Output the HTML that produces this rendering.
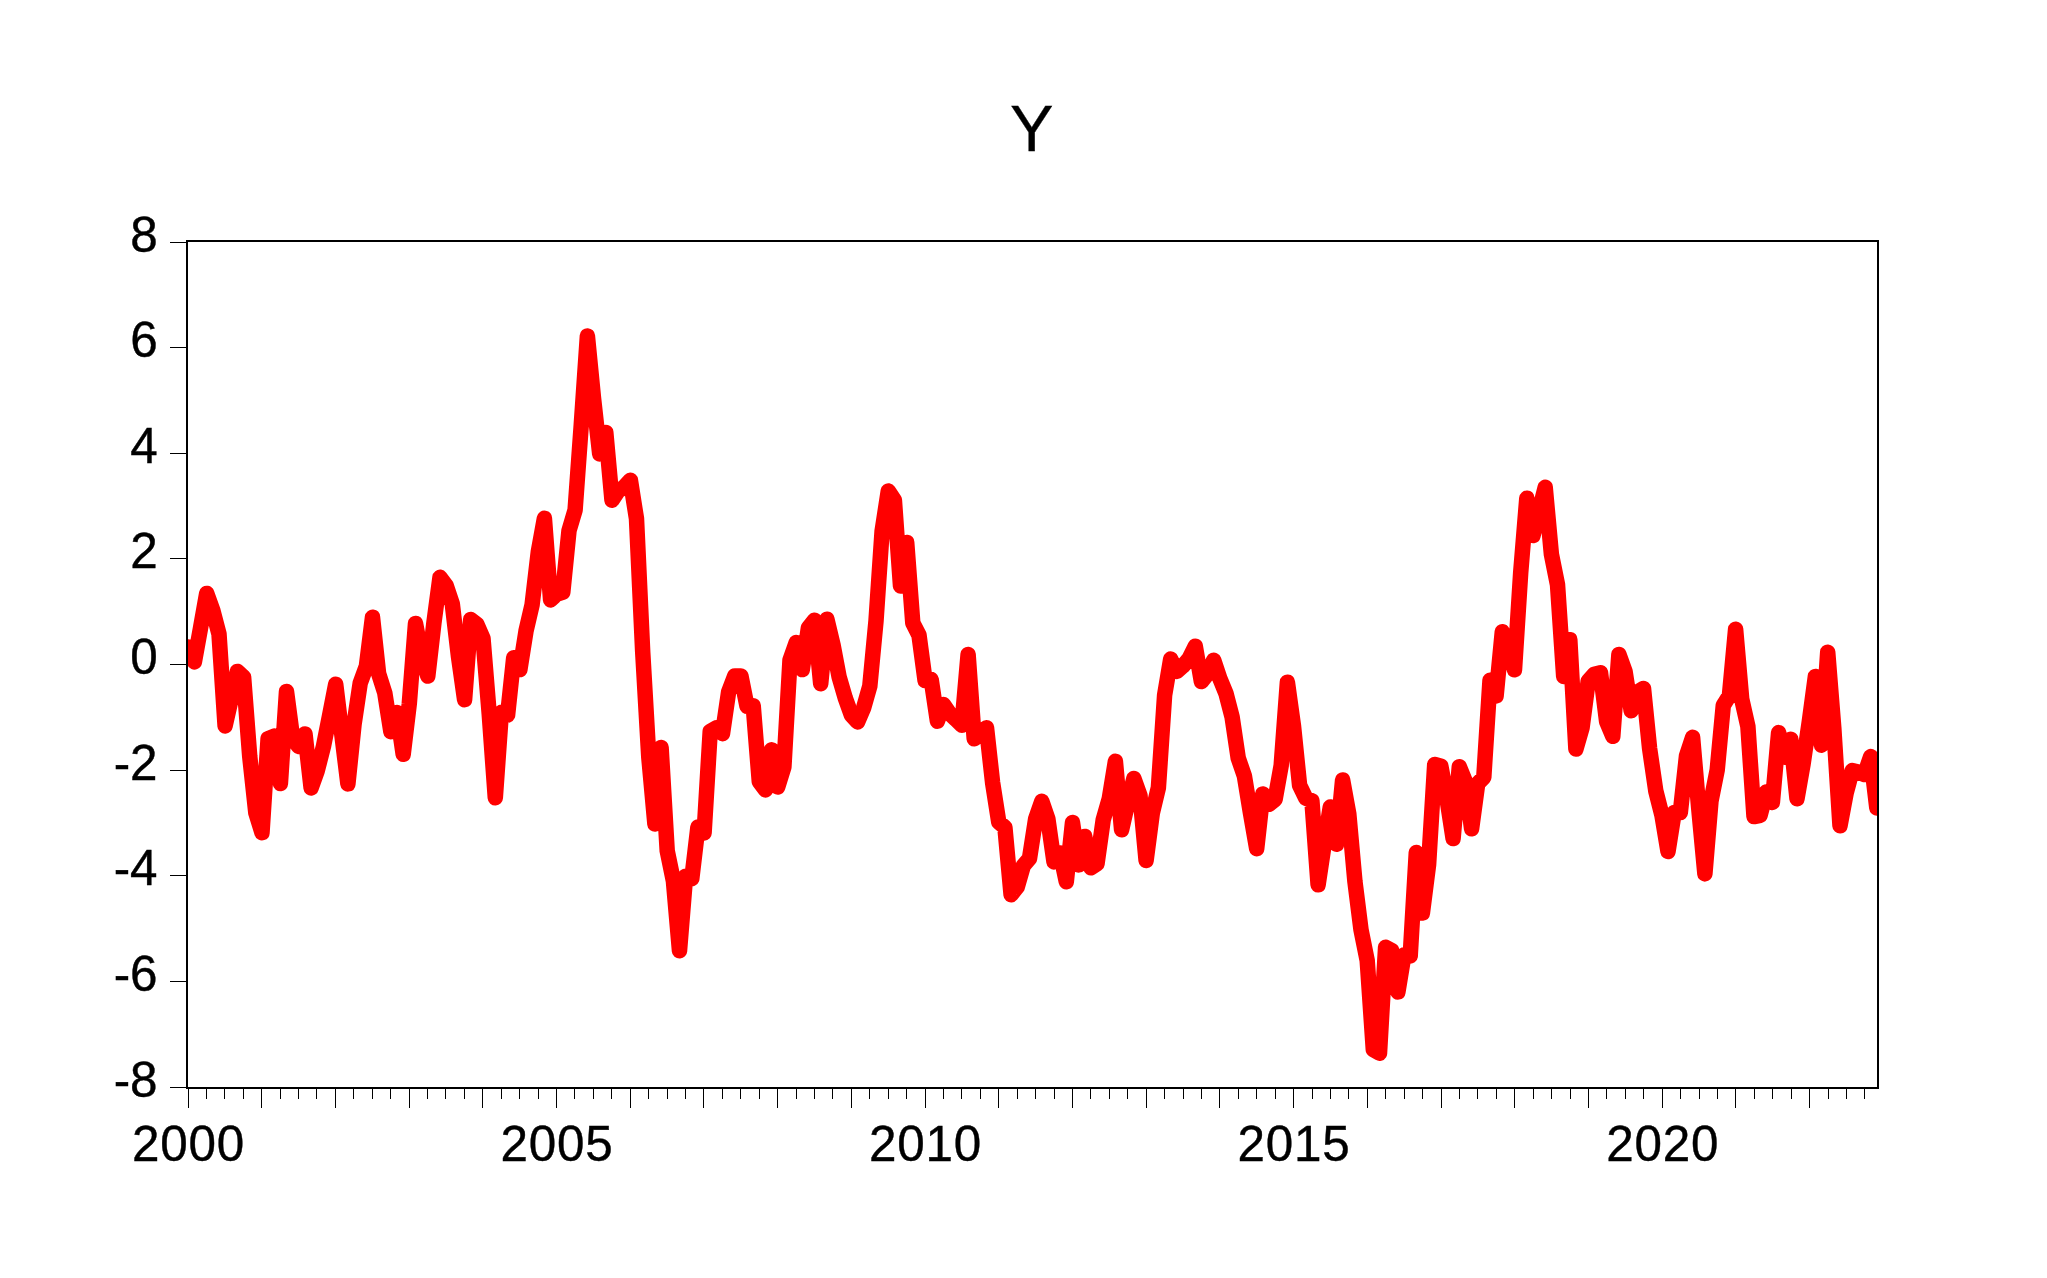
<!DOCTYPE html>
<html><head><meta charset="utf-8"><title>Y</title>
<style>
html,body{margin:0;padding:0;background:#fff;}
body{width:2047px;height:1278px;overflow:hidden;}
svg{display:block;}
.t{font-family:"Liberation Sans",sans-serif;font-size:49.4px;fill:#000;stroke:#000;stroke-width:0.4px;}
.ti{font-family:"Liberation Sans",sans-serif;font-size:65.2px;fill:#000;stroke:#000;stroke-width:0.3px;}
</style></head><body>
<svg width="2047" height="1278" viewBox="0 0 2047 1278">
<rect x="0" y="0" width="2047" height="1278" fill="#fff"/>
<defs><clipPath id="c"><rect x="187" y="241" width="1691" height="847"/></clipPath></defs>
<polyline clip-path="url(#c)" points="188.3,646.9 194.4,661.9 200.6,627.6 206.7,593.4 212.9,610.6 219.0,634.0 225.1,725.9 231.3,698.6 237.4,671.4 243.6,677.2 249.7,756.2 255.8,812.6 262.0,832.7 268.1,738.6 274.3,736.1 280.4,783.6 286.5,691.4 292.7,738.6 298.8,746.5 305.0,733.9 311.1,788.0 317.2,770.9 323.4,746.7 329.5,715.9 335.7,684.3 341.8,734.2 347.9,783.9 354.1,724.0 360.2,683.1 366.4,666.3 372.5,617.3 378.6,673.5 384.8,693.0 390.9,731.7 397.1,712.6 403.2,754.3 409.3,703.6 415.5,623.5 421.6,655.3 427.8,676.1 433.9,623.0 440.0,577.3 446.2,585.6 452.3,604.0 458.5,656.7 464.6,699.7 470.7,619.5 476.9,624.4 483.0,638.3 489.2,713.7 495.3,797.8 501.4,712.3 507.6,715.0 513.7,657.7 519.9,669.6 526.0,631.1 532.1,604.7 538.3,551.8 544.4,518.3 550.6,599.9 556.7,594.3 562.8,592.1 569.0,530.6 575.1,510.0 581.3,424.3 587.4,335.9 593.5,397.9 599.7,453.9 605.8,432.5 612.0,500.3 618.1,491.0 624.2,487.0 630.4,480.2 636.5,518.8 642.7,652.0 648.8,757.2 654.9,824.0 661.1,747.4 667.2,850.8 673.4,880.9 679.5,950.8 685.6,876.2 691.8,878.7 697.9,827.1 704.1,832.9 710.2,731.5 716.3,727.9 722.5,733.7 728.6,692.0 734.8,675.9 740.9,675.9 747.0,706.2 753.2,705.7 759.3,781.6 765.5,789.9 771.6,749.8 777.7,787.0 783.9,766.9 790.0,660.0 796.2,642.6 802.3,669.6 808.4,627.8 814.6,620.2 820.7,683.8 826.9,619.2 833.0,644.7 839.1,676.9 845.3,698.2 851.4,715.0 857.6,721.9 863.7,707.7 869.8,686.2 876.0,621.0 882.1,531.1 888.3,490.9 894.4,500.3 900.5,585.9 906.7,542.5 912.8,623.0 919.0,635.1 925.1,680.6 931.2,679.6 937.4,721.2 943.5,704.5 949.7,713.6 955.8,719.3 961.9,725.3 968.1,654.4 974.2,738.8 980.4,734.1 986.5,727.7 992.6,782.7 998.8,822.2 1004.9,827.4 1011.1,894.7 1017.2,887.0 1023.3,865.8 1029.5,858.5 1035.6,819.1 1041.8,801.3 1047.9,819.1 1054.0,861.9 1060.2,853.0 1066.3,881.7 1072.5,822.5 1078.6,864.9 1084.7,836.4 1090.9,867.8 1097.0,863.8 1103.2,819.9 1109.3,798.6 1115.4,761.3 1121.6,829.7 1127.7,803.0 1133.9,778.5 1140.0,795.7 1146.1,860.5 1152.3,813.3 1158.4,787.6 1164.6,695.3 1170.7,659.1 1176.8,671.4 1183.0,666.0 1189.1,658.6 1195.3,646.2 1201.4,681.6 1207.5,674.0 1213.7,660.2 1219.8,678.4 1226.0,693.5 1232.1,717.0 1238.2,758.0 1244.4,776.0 1250.5,813.3 1256.7,848.7 1262.8,793.9 1268.9,804.3 1275.1,799.4 1281.2,765.3 1287.4,682.2 1293.5,726.0 1299.6,785.4 1305.8,798.2 1311.9,800.8 1318.1,884.8 1324.2,844.0 1330.3,807.0 1336.5,844.3 1342.6,779.9 1348.8,813.9 1354.9,881.3 1361.0,929.7 1367.2,960.5 1373.3,1049.5 1379.5,1053.2 1385.6,947.3 1391.7,950.6 1397.9,991.9 1404.0,955.0 1410.2,956.0 1416.3,852.5 1422.4,913.1 1428.6,864.5 1434.7,764.5 1440.9,766.3 1447.0,799.0 1453.1,838.6 1459.3,766.7 1465.4,781.6 1471.6,828.8 1477.7,783.6 1483.8,777.3 1490.0,680.2 1496.1,695.9 1502.3,631.7 1508.4,645.0 1514.5,669.8 1520.7,572.6 1526.8,498.3 1533.0,535.5 1539.1,511.3 1545.2,487.3 1551.4,554.3 1557.5,584.6 1563.7,676.4 1569.8,639.7 1575.9,749.0 1582.1,727.5 1588.2,681.1 1594.4,674.2 1600.5,672.7 1606.6,721.4 1612.8,736.3 1618.9,654.4 1625.1,671.6 1631.2,710.7 1637.3,692.1 1643.5,688.4 1649.6,748.5 1655.8,791.0 1661.9,815.0 1668.0,851.5 1674.2,812.5 1680.3,812.6 1686.5,755.9 1692.6,737.3 1698.7,808.0 1704.9,873.9 1711.0,800.9 1717.2,770.0 1723.3,705.3 1729.4,695.7 1735.6,629.3 1741.7,699.0 1747.9,726.5 1754.0,816.6 1760.1,815.3 1766.3,792.0 1772.4,802.4 1778.6,732.6 1784.7,757.2 1790.8,739.3 1797.0,798.7 1803.1,764.0 1809.3,721.5 1815.4,676.4 1821.5,745.2 1827.7,652.2 1833.8,728.0 1840.0,825.8 1846.1,793.3 1852.2,770.6 1858.4,772.0 1864.5,774.5 1870.7,756.6 1876.8,807.9" fill="none" stroke="#ff0000" stroke-width="15.5" stroke-linejoin="round" stroke-linecap="round"/>
<rect x="187" y="241" width="1691" height="847" fill="none" stroke="#000" stroke-width="2"/>
<rect x="170" y="242" width="17" height="1" fill="#000"/>
<text x="157.6" y="252.0" text-anchor="end" class="t">8</text>
<rect x="170" y="347" width="17" height="1" fill="#000"/>
<text x="157.6" y="357.0" text-anchor="end" class="t">6</text>
<rect x="170" y="453" width="17" height="1" fill="#000"/>
<text x="157.6" y="463.0" text-anchor="end" class="t">4</text>
<rect x="170" y="558" width="17" height="1" fill="#000"/>
<text x="157.6" y="568.0" text-anchor="end" class="t">2</text>
<rect x="170" y="664" width="17" height="1" fill="#000"/>
<text x="157.6" y="674.0" text-anchor="end" class="t">0</text>
<rect x="170" y="770" width="17" height="1" fill="#000"/>
<text x="157.6" y="780.0" text-anchor="end" class="t">-2</text>
<rect x="170" y="875" width="17" height="1" fill="#000"/>
<text x="157.6" y="885.0" text-anchor="end" class="t">-4</text>
<rect x="170" y="981" width="17" height="1" fill="#000"/>
<text x="157.6" y="991.0" text-anchor="end" class="t">-6</text>
<rect x="170" y="1087" width="17" height="1" fill="#000"/>
<text x="157.6" y="1097.0" text-anchor="end" class="t">-8</text>
<rect x="188" y="1088" width="1" height="20" fill="#000"/>
<rect x="206" y="1088" width="1" height="11" fill="#000"/>
<rect x="224" y="1088" width="1" height="11" fill="#000"/>
<rect x="243" y="1088" width="1" height="11" fill="#000"/>
<rect x="261" y="1088" width="1" height="20" fill="#000"/>
<rect x="280" y="1088" width="1" height="11" fill="#000"/>
<rect x="298" y="1088" width="1" height="11" fill="#000"/>
<rect x="316" y="1088" width="1" height="11" fill="#000"/>
<rect x="335" y="1088" width="1" height="20" fill="#000"/>
<rect x="353" y="1088" width="1" height="11" fill="#000"/>
<rect x="372" y="1088" width="1" height="11" fill="#000"/>
<rect x="390" y="1088" width="1" height="11" fill="#000"/>
<rect x="409" y="1088" width="1" height="20" fill="#000"/>
<rect x="427" y="1088" width="1" height="11" fill="#000"/>
<rect x="445" y="1088" width="1" height="11" fill="#000"/>
<rect x="464" y="1088" width="1" height="11" fill="#000"/>
<rect x="482" y="1088" width="1" height="20" fill="#000"/>
<rect x="501" y="1088" width="1" height="11" fill="#000"/>
<rect x="519" y="1088" width="1" height="11" fill="#000"/>
<rect x="538" y="1088" width="1" height="11" fill="#000"/>
<rect x="556" y="1088" width="1" height="20" fill="#000"/>
<rect x="574" y="1088" width="1" height="11" fill="#000"/>
<rect x="593" y="1088" width="1" height="11" fill="#000"/>
<rect x="611" y="1088" width="1" height="11" fill="#000"/>
<rect x="630" y="1088" width="1" height="20" fill="#000"/>
<rect x="648" y="1088" width="1" height="11" fill="#000"/>
<rect x="667" y="1088" width="1" height="11" fill="#000"/>
<rect x="685" y="1088" width="1" height="11" fill="#000"/>
<rect x="703" y="1088" width="1" height="20" fill="#000"/>
<rect x="722" y="1088" width="1" height="11" fill="#000"/>
<rect x="740" y="1088" width="1" height="11" fill="#000"/>
<rect x="759" y="1088" width="1" height="11" fill="#000"/>
<rect x="777" y="1088" width="1" height="20" fill="#000"/>
<rect x="796" y="1088" width="1" height="11" fill="#000"/>
<rect x="814" y="1088" width="1" height="11" fill="#000"/>
<rect x="832" y="1088" width="1" height="11" fill="#000"/>
<rect x="851" y="1088" width="1" height="20" fill="#000"/>
<rect x="869" y="1088" width="1" height="11" fill="#000"/>
<rect x="888" y="1088" width="1" height="11" fill="#000"/>
<rect x="906" y="1088" width="1" height="11" fill="#000"/>
<rect x="925" y="1088" width="1" height="20" fill="#000"/>
<rect x="943" y="1088" width="1" height="11" fill="#000"/>
<rect x="961" y="1088" width="1" height="11" fill="#000"/>
<rect x="980" y="1088" width="1" height="11" fill="#000"/>
<rect x="998" y="1088" width="1" height="20" fill="#000"/>
<rect x="1017" y="1088" width="1" height="11" fill="#000"/>
<rect x="1035" y="1088" width="1" height="11" fill="#000"/>
<rect x="1054" y="1088" width="1" height="11" fill="#000"/>
<rect x="1072" y="1088" width="1" height="20" fill="#000"/>
<rect x="1090" y="1088" width="1" height="11" fill="#000"/>
<rect x="1109" y="1088" width="1" height="11" fill="#000"/>
<rect x="1127" y="1088" width="1" height="11" fill="#000"/>
<rect x="1146" y="1088" width="1" height="20" fill="#000"/>
<rect x="1164" y="1088" width="1" height="11" fill="#000"/>
<rect x="1183" y="1088" width="1" height="11" fill="#000"/>
<rect x="1201" y="1088" width="1" height="11" fill="#000"/>
<rect x="1219" y="1088" width="1" height="20" fill="#000"/>
<rect x="1238" y="1088" width="1" height="11" fill="#000"/>
<rect x="1256" y="1088" width="1" height="11" fill="#000"/>
<rect x="1275" y="1088" width="1" height="11" fill="#000"/>
<rect x="1293" y="1088" width="1" height="20" fill="#000"/>
<rect x="1312" y="1088" width="1" height="11" fill="#000"/>
<rect x="1330" y="1088" width="1" height="11" fill="#000"/>
<rect x="1348" y="1088" width="1" height="11" fill="#000"/>
<rect x="1367" y="1088" width="1" height="20" fill="#000"/>
<rect x="1385" y="1088" width="1" height="11" fill="#000"/>
<rect x="1404" y="1088" width="1" height="11" fill="#000"/>
<rect x="1422" y="1088" width="1" height="11" fill="#000"/>
<rect x="1441" y="1088" width="1" height="20" fill="#000"/>
<rect x="1459" y="1088" width="1" height="11" fill="#000"/>
<rect x="1477" y="1088" width="1" height="11" fill="#000"/>
<rect x="1496" y="1088" width="1" height="11" fill="#000"/>
<rect x="1514" y="1088" width="1" height="20" fill="#000"/>
<rect x="1533" y="1088" width="1" height="11" fill="#000"/>
<rect x="1551" y="1088" width="1" height="11" fill="#000"/>
<rect x="1570" y="1088" width="1" height="11" fill="#000"/>
<rect x="1588" y="1088" width="1" height="20" fill="#000"/>
<rect x="1606" y="1088" width="1" height="11" fill="#000"/>
<rect x="1625" y="1088" width="1" height="11" fill="#000"/>
<rect x="1643" y="1088" width="1" height="11" fill="#000"/>
<rect x="1662" y="1088" width="1" height="20" fill="#000"/>
<rect x="1680" y="1088" width="1" height="11" fill="#000"/>
<rect x="1699" y="1088" width="1" height="11" fill="#000"/>
<rect x="1717" y="1088" width="1" height="11" fill="#000"/>
<rect x="1735" y="1088" width="1" height="20" fill="#000"/>
<rect x="1754" y="1088" width="1" height="11" fill="#000"/>
<rect x="1772" y="1088" width="1" height="11" fill="#000"/>
<rect x="1791" y="1088" width="1" height="11" fill="#000"/>
<rect x="1809" y="1088" width="1" height="20" fill="#000"/>
<rect x="1828" y="1088" width="1" height="11" fill="#000"/>
<rect x="1846" y="1088" width="1" height="11" fill="#000"/>
<rect x="1864" y="1088" width="1" height="11" fill="#000"/>
<text x="188.5" y="1160.8" text-anchor="middle" class="t" letter-spacing="0.8">2000</text>
<text x="557.0" y="1160.8" text-anchor="middle" class="t" letter-spacing="0.8">2005</text>
<text x="925.6" y="1160.8" text-anchor="middle" class="t" letter-spacing="0.8">2010</text>
<text x="1294.1" y="1160.8" text-anchor="middle" class="t" letter-spacing="0.8">2015</text>
<text x="1662.7" y="1160.8" text-anchor="middle" class="t" letter-spacing="0.8">2020</text>
<text x="1031.7" y="151" text-anchor="middle" class="ti">Y</text>
</svg>
</body></html>
